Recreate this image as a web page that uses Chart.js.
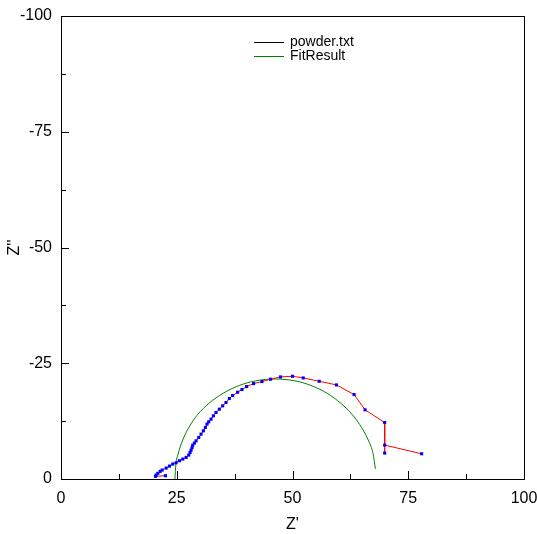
<!DOCTYPE html>
<html>
<head>
<meta charset="utf-8">
<script src="https://cdn.jsdelivr.net/npm/chart.js@4/dist/chart.umd.min.js"></script>
<style>
  body { margin: 0; background: #fff; }
  #wrap { width: 537px; height: 534px; }
</style>
</head>
<body>
<div id="wrap"><canvas id="myChart"></canvas></div>
<script>
// measured impedance, Z' and Z'' in ohm
const zReal = [22.56, 20.41, 20.55, 20.91, 21.41, 21.85, 22.71, 23.43, 24.14, 24.86,
  25.58, 26.30, 27.02, 27.59, 27.88, 28.10, 28.31, 28.46, 28.81, 29.17,
  29.75, 30.25, 30.75, 31.18, 31.54, 31.90, 32.40, 32.91, 33.48, 34.20,
  34.92, 35.64, 36.36, 37.07, 38.15, 39.08, 40.09, 41.60, 43.40, 45.26,
  47.42, 50.01, 52.31, 55.76, 59.49, 63.30, 65.67, 69.91, 69.91, 69.91, 77.89];
const zImag = [-0.71, -0.57, -0.86, -1.21, -1.64, -1.93, -2.36, -2.79, -3.23, -3.51,
  -3.94, -4.30, -4.66, -5.17, -5.74, -6.24, -6.82, -7.32, -7.75, -8.25,
  -8.97, -9.69, -10.41, -11.13, -11.85, -12.35, -12.92, -13.64, -14.36, -15.08,
  -15.80, -16.52, -17.38, -18.02, -18.74, -19.32, -19.96, -20.61, -21.04, -21.55,
  -22.05, -22.19, -21.83, -21.11, -20.32, -18.24, -14.94, -12.20, -5.60, -7.32, -5.45];

// fit curve
const fitReal = [24.6, 24.8, 25.3, 26.2, 27.6, 29.5, 32.0, 35.0, 38.5, 42.0,
  46.2, 50.5, 54.0, 57.5, 60.5, 63.0, 65.0, 66.5, 67.4, 67.9];
const fitImag = [0.0, -3.0, -5.4, -8.2, -11.1, -13.9, -16.4, -18.5, -20.2, -21.2,
  -21.6, -21.2, -20.2, -18.5, -16.3, -13.8, -11.0, -8.1, -5.5, -2.2];

const xTicks = [0, 25, 50, 75, 100];
const xMinor = [12.5, 37.5, 62.5, 87.5];
const yTicks = [-100, -75, -50, -25, 0];
const yMinor = [-87.5, -62.5, -37.5, -12.5];

const legendLabels = ['powder.txt', 'FitResult'];
const legendColors = ['#000000', '#008000'];

const FONT = "'Liberation Sans', Arial, sans-serif";

const frameAndTicks = {
  id: 'frameAndTicks',
  afterDraw(chart) {
    const ctx = chart.ctx;
    const a = chart.chartArea;
    const x = chart.scales.x;
    const y = chart.scales.y;
    ctx.save();
    ctx.strokeStyle = '#000';
    ctx.lineWidth = 1;
    ctx.strokeRect(a.left + 0.5, a.top + 0.5, a.right - a.left, a.bottom - a.top);

    ctx.beginPath();
    xTicks.concat(xMinor).forEach(function(v) {
      const px = Math.round(x.getPixelForValue(v)) + 0.5;
      const len = xTicks.includes(v) ? 8 : 5;
      ctx.moveTo(px, a.bottom);
      ctx.lineTo(px, a.bottom - len);
    });
    yTicks.concat(yMinor).forEach(function(v) {
      const py = Math.round(y.getPixelForValue(v)) + 0.5;
      const len = yTicks.includes(v) ? 8 : 5;
      ctx.moveTo(a.left, py);
      ctx.lineTo(a.left + len, py);
    });
    ctx.stroke();

    // legend inside the plot
    ctx.font = '14px ' + FONT;
    ctx.textBaseline = 'middle';
    ctx.fillStyle = '#000';
    legendLabels.forEach(function(label, i) {
      const ly = a.top + 26 + i * 14;
      ctx.strokeStyle = legendColors[i];
      ctx.beginPath();
      ctx.moveTo(a.left + 193, ly + 0.5);
      ctx.lineTo(a.left + 223, ly + 0.5);
      ctx.stroke();
      ctx.fillText(label, a.left + 229, ly);
    });
    ctx.restore();
  }
};

const chartLayout = document.getElementById('myChart');

const myChart = new Chart(chartLayout, {
  type: 'scatter',
  data: {
    datasets: [{
      label: legendLabels[0],
      data: zReal.map(function(v, i) { return {x: v, y: zImag[i]}; }),
      showLine: true,
      borderColor: '#ff0000',
      borderWidth: 1,
      backgroundColor: '#0000ff',
      pointStyle: 'rect',
      pointRadius: 2.2,
      pointBorderWidth: 0,
      tension: 0
    },
    {
      label: legendLabels[1],
      data: fitReal.map(function(v, i) { return {x: v, y: fitImag[i]}; }),
      showLine: true,
      borderColor: '#008000',
      borderWidth: 1,
      pointRadius: 0,
      cubicInterpolationMode: 'monotone'
    }]
  },
  options: {
    responsive: true,
    maintainAspectRatio: false,
    animation: false,
    layout: {
      padding: { top: 16, right: 13, left: 0, bottom: 0 }
    },
    plugins: {
      legend: { display: false },
      tooltip: { enabled: false }
    },
    scales: {
      x: {
        type: 'linear',
        min: 0,
        max: 100,
        afterFit: function(s) { s.height = 55; s.paddingLeft = 0; s.paddingRight = 0; },
        afterBuildTicks: function(s) { s.ticks = xTicks.map(function(v) { return {value: v}; }); },
        grid: { display: false, drawTicks: false },
        border: { display: false },
        ticks: { color: '#000', padding: 10, maxRotation: 0, font: { family: FONT, size: 16 } },
        title: { display: true, text: "Z'", color: '#000', padding: { top: 0, bottom: 0 }, font: { family: FONT, size: 16 } }
      },
      y: {
        type: 'linear',
        min: -100,
        max: 0,
        reverse: true,
        afterFit: function(s) { s.width = 61; s.paddingTop = 0; s.paddingBottom = 0; },
        afterBuildTicks: function(s) { s.ticks = yTicks.map(function(v) { return {value: v}; }); },
        grid: { display: false, drawTicks: false },
        border: { display: false },
        ticks: { color: '#000', padding: 9, font: { family: FONT, size: 16 } },
        title: { display: true, text: "Z''", color: '#000', padding: { top: 5, bottom: 0 }, font: { family: FONT, size: 16 } }
      }
    }
  },
  plugins: [frameAndTicks]
});
</script>
</body>
</html>
